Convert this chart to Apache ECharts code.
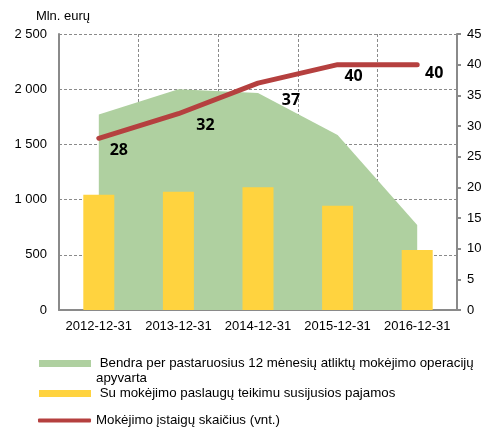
<!DOCTYPE html>
<html lang="lt">
<head>
    <meta charset="UTF-8">
    <title>Mokėjimo įstaigos</title>
    <script src="https://cdn.jsdelivr.net/npm/echarts@6/dist/echarts.min.js"></script>
    <style>
        html, body { margin: 0; padding: 0; background: #fff; }
        #main { width: 486px; height: 427px; }
    </style>
</head>
<body>
<div id="main"></div>
<script>
// duomenys
var categories = ['2012-12-31', '2013-12-31', '2014-12-31', '2015-12-31', '2016-12-31'];
var turnover = [1770, 2000, 1965, 1585, 770];      // mln. eurų, kairė ašis
var revenue = [18.8, 19.3, 20.0, 17.0, 9.8];       // dešinė ašis
var institutions = [28, 32, 37, 40, 40];            // vnt.
var leftTicks = [0, 500, 1000, 1500, 2000, 2500];
var rightTicks = [0, 5, 10, 15, 20, 25, 30, 35, 40, 45];

var names = [
    'Bendra per pastaruosius 12 mėnesių atliktų mokėjimo operacijų apyvarta',
    'Su mokėjimo paslaugų teikimu susijusios pajamos',
    'Mokėjimo įstaigų skaičius (vnt.)'
];

// etikečių poslinkiai
var labelShift = [[20, 12], [27, 12], [33, 17], [16, 12], [17, 9]];

var font = 'Liberation Sans, Arial, sans-serif';
var grey = '#8a8a8a';

var myChart = echarts.init(document.getElementById('main'));

var option = {
    animation: false,
    textStyle: { fontFamily: font },
    grid: { left: 59, right: 29, top: 34, bottom: 117, containLabel: false },
    legend: [
        {
            orient: 'vertical', left: 34, top: 336,
            itemWidth: 52, itemHeight: 7, icon: 'rect',
            data: [names[0]],
            formatter: function () { return ' \n Bendra per pastaruosius 12 mėnesių atliktų mokėjimo operacijų\napyvarta'; },
            textStyle: { fontFamily: font, fontSize: 13.3, color: '#000', lineHeight: 15 }
        },
        {
            orient: 'vertical', left: 34, top: 382,
            itemWidth: 52, itemHeight: 7, icon: 'rect',
            data: [names[1]],
            formatter: function (n) { return ' ' + n; },
            textStyle: { fontFamily: font, fontSize: 13.3, color: '#000' }
        },
        {
            orient: 'vertical', left: 33, top: 409,
            itemWidth: 53, itemHeight: 4,
            data: [{ name: names[2], icon: 'roundRect', itemStyle: { color: '#b5403f', opacity: 1 } }],
            textStyle: { fontFamily: font, fontSize: 13.3, color: '#000' }
        }
    ],
    xAxis: {
        type: 'category',
        data: categories,
        boundaryGap: true,
        axisLine: { lineStyle: { color: grey, width: 2 } },
        axisTick: { show: false },
        axisLabel: { color: '#000', fontSize: 13, margin: 10, interval: 0 },
        splitLine: { show: true, lineStyle: { color: grey, type: [3, 2], width: 1 } }
    },
    yAxis: [
        {
            type: 'value', min: leftTicks[0], max: leftTicks[leftTicks.length - 1], interval: 500,
            name: 'Mln. eurų',
            nameGap: 11,
            nameTextStyle: { color: '#000', fontSize: 13, padding: [0, 0, 0, 8] },
            axisLine: { show: true, lineStyle: { color: grey, width: 2 } },
            axisTick: { show: false },
            axisLabel: {
                color: '#000', fontSize: 13, margin: 12,
                formatter: function (v) { return String(v).replace(/\B(?=(\d{3})+(?!\d))/g, ' '); }
            },
            splitLine: { show: true, lineStyle: { color: grey, type: [3, 2], width: 1 } }
        },
        {
            type: 'value', min: rightTicks[0], max: rightTicks[rightTicks.length - 1], interval: 5,
            position: 'right',
            axisLine: { show: true, lineStyle: { color: grey, width: 2 } },
            axisTick: { show: true, length: 4, lineStyle: { color: grey, width: 2 } },
            axisLabel: { color: '#000', fontSize: 13, margin: 10 },
            splitLine: { show: false }
        }
    ],
    series: [
        {
            name: names[0],
            type: 'line',
            yAxisIndex: 0,
            data: turnover,
            symbol: 'none',
            lineStyle: { width: 0, color: '#afd0a0' },
            itemStyle: { color: '#afd0a0' },
            areaStyle: { color: '#afd0a0', opacity: 1 },
            z: 1
        },
        {
            name: names[1],
            type: 'bar',
            yAxisIndex: 1,
            data: revenue,
            barWidth: 31,
            itemStyle: { color: '#ffd33f' },
            z: 2
        },
        {
            name: names[2],
            type: 'line',
            yAxisIndex: 1,
            data: institutions.map(function (v, i) {
                return { value: v, label: { offset: labelShift[i] } };
            }),
            symbol: 'circle',
            symbolSize: 0,
            showSymbol: true,
            lineStyle: { width: 5, color: '#b5403f', cap: 'round' },
            itemStyle: { color: '#b5403f' },
            label: {
                show: true, position: 'inside',
                fontFamily: 'Noto Sans, sans-serif', fontWeight: 'bold', fontSize: 16, color: '#000'
            },
            z: 3
        }
    ]
};

myChart.setOption(option);
</script>
</body>
</html>
